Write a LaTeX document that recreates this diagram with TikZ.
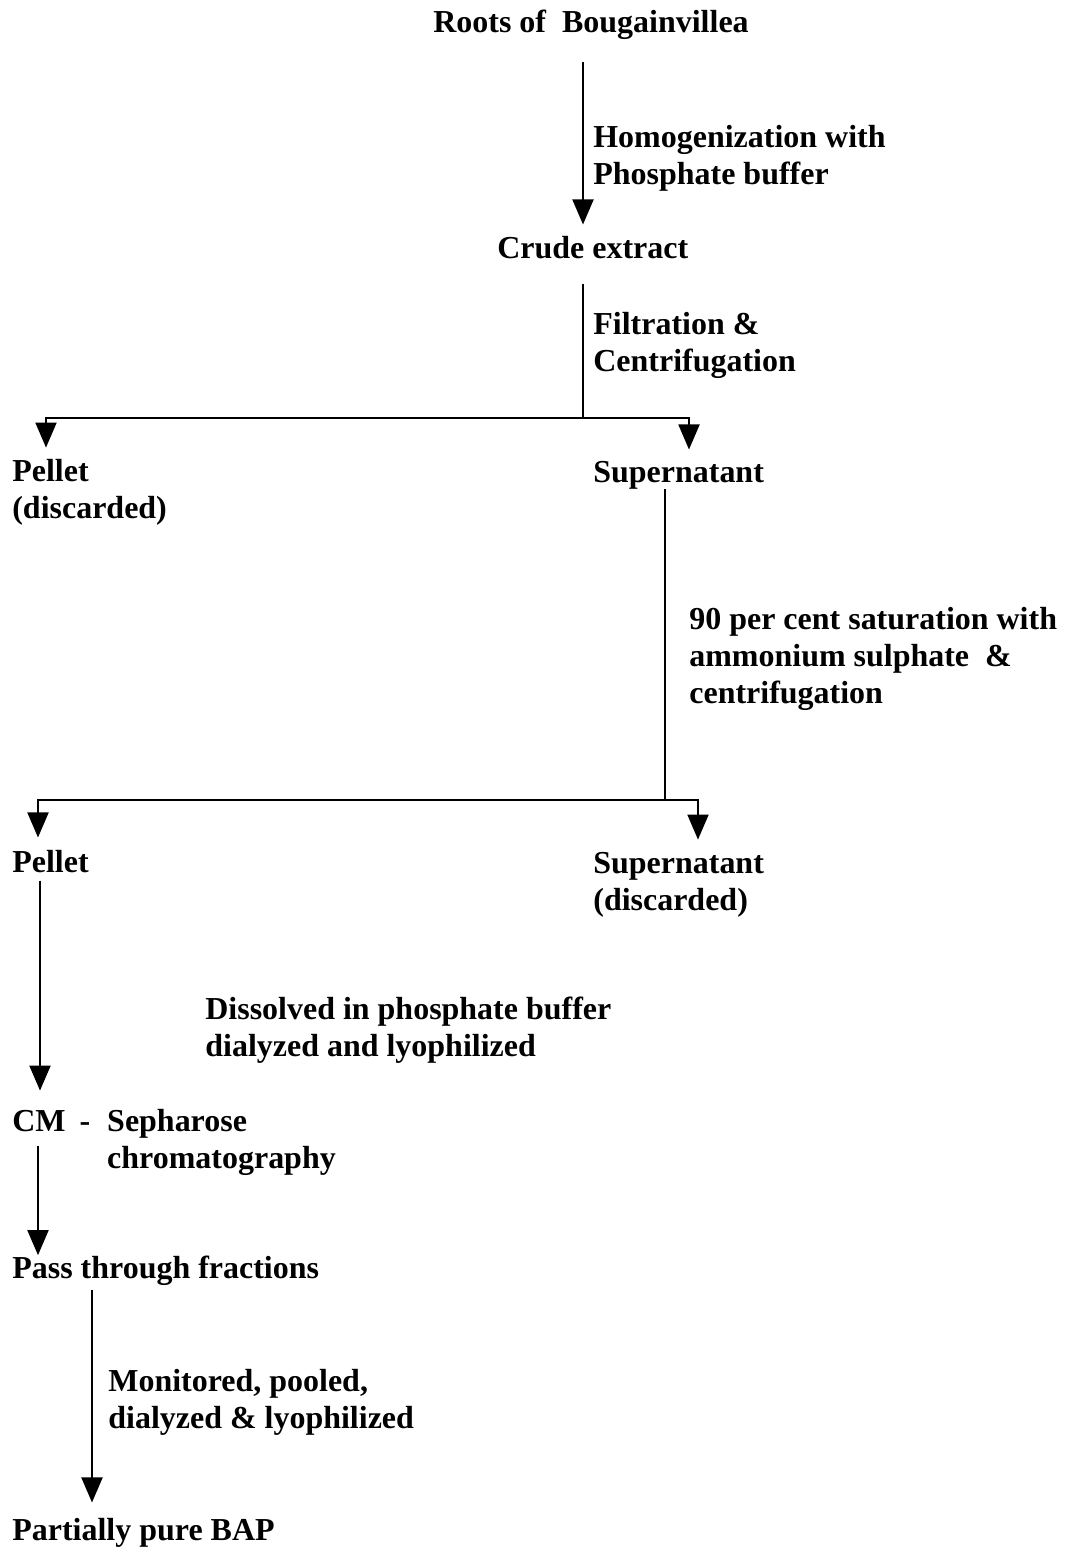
\documentclass[tikz,border=0pt]{standalone}
\usepackage{fontspec}
\setmainfont{Liberation Serif}
\usetikzlibrary{arrows.meta}
\begin{document}
\begin{tikzpicture}[x=0.02cm, y=-0.02cm,
    txt/.style={anchor=base west, inner sep=0pt, align=left, font=\bfseries\fontsize{18.2}{21}\selectfont},
    arrow/.style={-{Triangle[length=0.5cm, width=0.42cm]}, line width=1.1pt},
    link/.style={line width=1.1pt}
]
\useasboundingbox (0,0) rectangle (1065,1549);
% steps (base = baseline of last line)
\node[txt] (roots) at (433,32)   {Roots of\ \ Bougainvillea};
\node[txt] (crude) at (497,258)  {Crude extract};
\node[txt] (pel1)  at (12,518)   {Pellet\\(discarded)};
\node[txt] (sup1)  at (593,482)  {Supernatant};
\node[txt] (pel2)  at (12,872)   {Pellet};
\node[txt] (sup2)  at (593,910)  {Supernatant\\(discarded)};
\node[txt] (cm)    at (12,1168)  {\makebox[54pt][l]{CM\hspace{8pt}-}Sepharose\\\hspace*{54pt}chromatography};
\node[txt] (pass)  at (12,1278)  {Pass through fractions};
\node[txt] (bap)   at (12,1540)  {Partially pure BAP};
% treatments
\node[txt] (homog) at (593,184)  {Homogenization with\\Phosphate buffer};
\node[txt] (filt)  at (593,371)  {Filtration \&\\Centrifugation};
\node[txt] (sat)   at (689,703)  {90 per cent saturation with\\ammonium sulphate\ \ \&\\centrifugation};
\node[txt] (diss)  at (205,1056) {Dissolved in phosphate buffer\\dialyzed and lyophilized};
\node[txt] (mon)   at (108,1428) {Monitored, pooled,\\dialyzed \& lyophilized};
% columns and junctions
\coordinate (j1) at (583,418);
\coordinate (a1) at (46,0);
\coordinate (b1) at (689,0);
\coordinate (j2) at (665,800);
\coordinate (a2) at (38,0);
\coordinate (b2) at (698,0);
\coordinate (c3) at (40,0);
\coordinate (c4) at (38,0);
\coordinate (c5) at (92,0);

\draw[arrow, shorten <=0.46cm, shorten >=0.22cm] (roots.south -| j1) -- (crude.north -| j1);
\draw[link, shorten <=0.5cm] (crude.south -| j1) -- (j1);
\draw[arrow, shorten >=0.22cm] (j1) -| (pel1.north -| a1);
\draw[arrow, shorten >=0.22cm] (j1) -| (sup1.north -| b1);
\draw[link] (sup1.south -| j2) -- (j2);
\draw[arrow, shorten >=0.24cm] (j2) -| (pel2.north -| a2);
\draw[arrow, shorten >=0.24cm] (j2) -| (sup2.north -| b2);
\draw[arrow, shorten <=0.16cm, shorten >=0.36cm] (pel2.south -| c3) -- (cm.north -| c3);
\draw[arrow, shorten <=0.74cm] (cm.north -| c4) -- (pass.north -| c4);
\draw[arrow, shorten <=0.1cm, shorten >=0.3cm] (pass.south -| c5) -- (bap.north -| c5);
\end{tikzpicture}
\end{document}
